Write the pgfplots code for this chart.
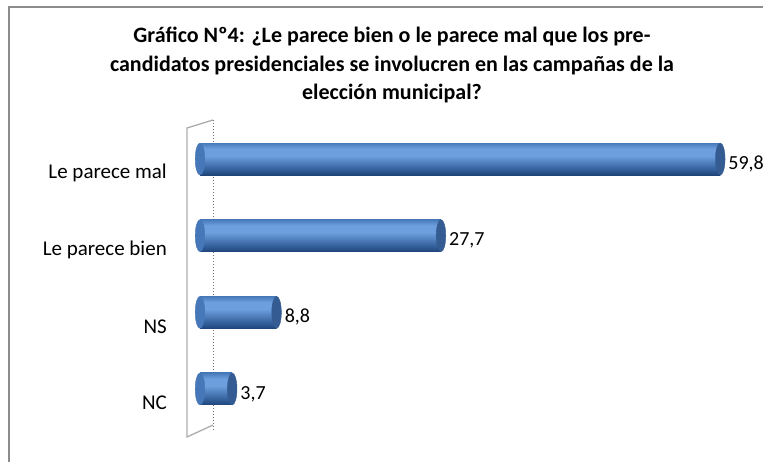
\documentclass[border=0pt]{standalone}
\usepackage{pgfplots}
\pgfplotsset{compat=1.18}
\usepackage{fontspec}
\setmainfont{Carlito}
\definecolor{bbot}{HTML}{1F4578}
\definecolor{bdark}{HTML}{2E5A95}
\definecolor{bhigh}{HTML}{6D9EDE}
\definecolor{btop}{HTML}{4879BA}
\definecolor{bcap}{HTML}{345C92}
\definecolor{bleft}{HTML}{4677B8}
\definecolor{framegray}{HTML}{8C8C8C}
\pgfdeclareverticalshading{cyl}{100bp}{color(0bp)=(bbot); color(25bp)=(bbot); color(32bp)=(bdark); color(55bp)=(bhigh); color(66bp)=(bhigh); color(75bp)=(btop); color(100bp)=(btop)}
\pgfplotsset{
  cylbar/.style={xbar, bar width=32pt, bar shift=0pt, draw=none, shading=cyl,
    nodes near coords,
    nodes near coords style={font=\fontsize{20}{22}\selectfont, anchor=west, inner sep=0pt, xshift=8pt, yshift=-5pt, text=black,
      /pgf/number format/.cd, use comma, fixed, fixed zerofill, precision=1}},
}
\begin{document}
\begin{tikzpicture}[x=1pt,y=1pt]
\useasboundingbox (0,0) rectangle (763,461);
\draw[framegray, line width=2pt] (9,-20) rectangle (800,454);
\node[font=\bfseries\fontsize{22}{28.8}\selectfont, align=center] at (392,396)
  {Gráfico Nº4: ¿Le parece bien o le parece mal que los pre-\\
   candidatos presidenciales se involucren en las campañas de la\\
   elección municipal?};
% 3D wall
\draw[black!32, line width=1.3pt] (213,36) -- (187,24) -- (187,333) -- (213,341);
\draw[black!55, dotted, line width=1pt] (213,341) -- (213,31);
\begin{axis}[
  at={(200pt,33.7pt)}, anchor=south west, scale only axis,
  width=522pt, height=306.6pt,
  xmin=0, xmax=60, ymin=-0.5, ymax=3.5,
  axis line style={draw=none},
  xtick=\empty,
  ytick={0,1,2,3},
  yticklabels={NC,NS,Le parece bien,Le parece mal},
  major tick length=0pt,
  yticklabel style={font=\fontsize{21}{23}\selectfont, anchor=east, inner sep=0pt, xshift=-33pt, yshift=-14pt},
  clip=false,
  /pgf/number format/assume math mode=true,
]
\addplot[only marks, color=bleft, mark=*, mark size=16pt, mark options={xscale=0.3, fill=bleft, draw=bleft}]
  coordinates {(0,0) (0,1) (0,2) (0,3)};
\addplot[cylbar] coordinates {(3.7,0)};
\addplot[cylbar] coordinates {(8.8,1)};
\addplot[cylbar] coordinates {(27.7,2)};
\addplot[cylbar] coordinates {(59.8,3)};
\addplot[only marks, color=bcap, mark=*, mark size=16pt, mark options={xscale=0.3, fill=bcap, draw=bcap}]
  coordinates {(3.7,0) (8.8,1) (27.7,2) (59.8,3)};
\end{axis}
\end{tikzpicture}
\end{document}
